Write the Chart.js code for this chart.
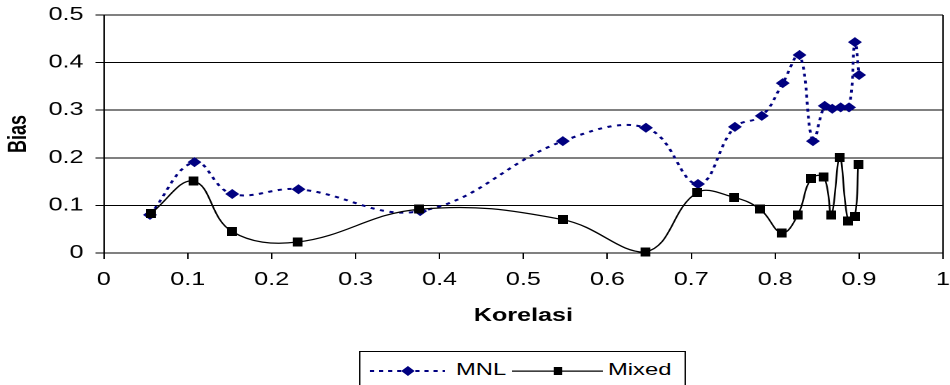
<!DOCTYPE html>
<html><head><meta charset="utf-8">
<script src="https://cdn.jsdelivr.net/npm/chart.js@4/dist/chart.umd.min.js"></script>
<style>
html,body{margin:0;padding:0;background:#fff;overflow:hidden;width:950px;height:385px}
#wrap{position:absolute;left:0;top:0;width:680px;height:385px;transform:scaleX(1.397059);transform-origin:0 0}
#c{position:absolute;left:0;top:0}
#legend{position:absolute;left:257px;top:351px;width:234px;height:45px;border:1px solid #000;box-sizing:border-box;background:#fff;font-family:"Liberation Sans",Arial,sans-serif;font-size:17px;color:#000}
#legend svg{position:absolute;left:0;top:0}
#legend span{position:absolute;top:8px;line-height:20px;white-space:nowrap}
</style></head><body>
<div id="wrap"><canvas id="c" width="680" height="385"></canvas><div id="legend"></div></div>
<script>
// ---- data ----
const seriesNames = ['MNL', 'Mixed'];
const xMNL   = [0.055, 0.108, 0.153, 0.232, 0.377, 0.547, 0.646, 0.708, 0.752, 0.784, 0.809, 0.829, 0.845, 0.859, 0.868, 0.878, 0.888, 0.895, 0.900];
const yMNL   = [0.080, 0.191, 0.124, 0.134, 0.088, 0.235, 0.263, 0.145, 0.265, 0.288, 0.357, 0.416, 0.235, 0.309, 0.303, 0.306, 0.306, 0.443, 0.374];
const xMixed = [0.056, 0.107, 0.153, 0.231, 0.376, 0.547, 0.645, 0.707, 0.751, 0.782, 0.808, 0.827, 0.843, 0.858, 0.867, 0.877, 0.887, 0.895, 0.899];
const yMixed = [0.083, 0.151, 0.045, 0.023, 0.092, 0.070, 0.002, 0.127, 0.117, 0.092, 0.042, 0.080, 0.157, 0.160, 0.080, 0.201, 0.067, 0.077, 0.186];
const xTickLabels = ['0', '0.1', '0.2', '0.3', '0.4', '0.5', '0.6', '0.7', '0.8', '0.9', '1'];
const yTickLabels = ['0', '0.1', '0.2', '0.3', '0.4', '0.5'];
const xTitle = 'Korelasi';
const yTitle = 'Bias';

const FONT = '"Liberation Sans", Arial, sans-serif';

// square marker (slightly taller than wide, as in the reference)
const sq = document.createElement('canvas');
sq.width = 7; sq.height = 9;
(function(){ const g = sq.getContext('2d'); g.fillStyle = '#000'; g.fillRect(0,0,7,9); })();

const ctx = document.getElementById('c');
new Chart(ctx, {
  type: 'scatter',
  data: {
    datasets: [
      {
        label: seriesNames[0],
        data: xMNL.map((x, i) => ({x: x, y: yMNL[i]})),
        showLine: true,
        order: 1,
        clip: false,
        borderColor: '#000080',
        backgroundColor: '#000080',
        borderWidth: 2,
        borderDash: [3, 4],
        tension: 0.4,
        pointStyle: 'rectRot',
        pointRadius: 5,
        pointBorderWidth: 0,
        pointBackgroundColor: '#000080'
      },
      {
        label: seriesNames[1],
        data: xMixed.map((x, i) => ({x: x, y: yMixed[i]})),
        showLine: true,
        order: 0,
        clip: false,
        borderColor: '#000',
        backgroundColor: '#000',
        borderWidth: 1.25,
        tension: 0.4,
        pointStyle: sq,
        pointRadius: 5,
        pointBorderWidth: 0
      }
    ]
  },
  options: {
    responsive: false,
    animation: false,
    devicePixelRatio: 2,
    layout: {padding: {left: 2.8, top: 15, right: 3.6, bottom: 58.2}},
    plugins: {legend: {display: false}, tooltip: {enabled: false}},
    scales: {
      x: {
        type: 'linear', min: 0, max: 1,
        afterFit: s => { s.height = 73.8; s.paddingLeft = 0; s.paddingRight = 0; },
        ticks: {stepSize: 0.1, padding: 10, color: '#000', maxRotation: 0,
                font: {family: FONT, size: 18},
                callback: (v, i) => xTickLabels[i]},
        grid: {
          color: c => (c.tick && Math.abs(c.tick.value - 1) < 1e-9) ? '#000' : 'rgba(0,0,0,0)',
          tickColor: '#000', tickLength: 6, lineWidth: 1, drawTicks: true
        },
        border: {display: true, color: '#000', width: 1},
        title: {display: true, text: xTitle, color: '#000', padding: 0,
                font: {family: FONT, size: 18, weight: 'bold'}}
      },
      y: {
        type: 'linear', min: 0, max: 0.5,
        afterFit: s => { s.width = 71.5; s.paddingTop = 0; s.paddingBottom = 0; },
        ticks: {stepSize: 0.1, padding: 8.5, color: '#000',
                font: {family: FONT, size: 18},
                callback: (v, i) => yTickLabels[i]},
        grid: {color: '#000', tickColor: '#000', tickLength: 6, lineWidth: 1},
        border: {display: true, color: '#000', width: 1},
        title: {display: true, text: yTitle, color: '#000', padding: 0,
                font: {family: FONT, size: 18, weight: 'bold'}}
      }
    }
  }
});

// legend built from the series names
document.getElementById('legend').innerHTML =
  '<svg width="232" height="43" viewBox="0 0 232 43">' +
  '<line x1="6.8" y1="19" x2="60.5" y2="19" stroke="#000080" stroke-width="2" stroke-dasharray="3 3.5"/>' +
  '<polygon points="34,14 38.8,19 34,24 29.2,19" fill="#000080"/>' +
  '<line x1="108.5" y1="19" x2="173.6" y2="19" stroke="#000" stroke-width="1.25"/>' +
  '<rect x="138.4" y="15" width="6" height="8" fill="#000"/>' +
  '</svg>' +
  '<span style="left:68.4px">' + seriesNames[0] + '</span>' +
  '<span style="left:177.2px">' + seriesNames[1] + '</span>';
</script>
</body></html>
